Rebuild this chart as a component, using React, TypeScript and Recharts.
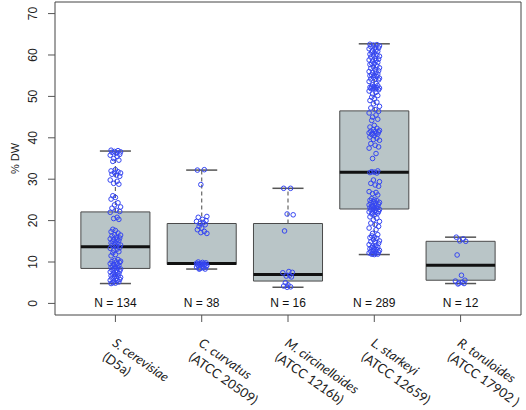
import React from 'react';
import { ComposedChart, XAxis, YAxis, Scatter, ReferenceArea, ReferenceLine } from 'recharts';

const categories = ['S. cerevisiae', 'C. curvatus', 'M. circinelloides', 'L. starkeyi', 'R. toruloides'];
const strains = ['(D5a)', '(ATCC 20509)', '(ATCC 1216b)', '(ATCC 12659)', '(ATCC 17902 )'];
const counts = [134, 38, 16, 289, 12];
const whiskerLow = [4.8, 8.3, 3.9, 11.8, 4.8];
const q1 = [8.45, 9.4, 5.4, 22.8, 5.6];
const medians = [13.7, 9.65, 7.0, 31.7, 9.2];
const q3 = [22.1, 19.3, 19.3, 46.5, 15.0];
const whiskerHigh = [36.8, 32.2, 27.8, 62.7, 16.0];
const yTicks = [0, 10, 20, 30, 40, 50, 60, 70];

const cerevisiaePts = [
  37, 36.9, 36.7, 36.6, 36.5, 36.3, 36, 35.8, 35.5, 35, 34.6, 34.3,
  32.3, 32, 31.8, 31.6, 31.5, 31.2, 31, 30.7,
  29.8, 29.5, 29, 28.8,
  26, 25.6, 25.2,
  24.3, 23.8, 23.3, 23, 22.5, 22.2, 22,
  20.8, 20.5, 20.3,
  17.9, 17.6, 17.3, 17, 16.6, 16.5, 16.3, 16,
  15.8, 15.6, 15.5, 15.4, 15.2, 15, 14.8, 14.6, 14.4, 14.2, 14.1, 14, 13.8,
  13.5, 13.3, 13.1, 12.8, 12.5, 12.2, 11.8, 11.5,
  10.6, 10.4, 10.2, 10.1, 10, 9.9,
  9.6, 9.5, 9.4, 9.2, 9, 8.8, 8.7, 8.6, 8.5, 8.3, 8.1, 8, 7.8, 7.6, 7.5, 7.4, 7.2, 7,
  6.9, 6.7, 6.6, 6.5, 6.3, 6.1, 6, 5.8, 5.6, 5.5, 5.4, 5.2, 5, 4.9, 4.8,
];
const curvatusPts = [
  32.2, 32.3, 28.7, 21, 20.8, 20.3, 20, 19.8, 19.5, 19.3, 19, 18.6, 18.2, 17.8, 17.4, 17.1, 16.9,
  10, 9.9, 9.8, 9.7, 9.6, 9.6, 9.5, 9.5, 9.4, 9.4, 9.3, 9.3, 9.2, 9.1, 9.0, 8.9, 8.8, 8.6, 8.4, 8.3, 8.3,
];
const circinelloidesPts = [27.8, 27.8, 21.6, 21.4, 17.5, 7.7, 7.5, 7.4, 6.8, 6.6, 6.4, 5.0, 4.5, 4.2, 4.0, 3.9];
const starkeyiPts = [
  62.6, 62.5, 62.4, 62.2, 62, 61.8, 61.7, 61.5, 61.2, 61, 60.9, 60.7, 60.5, 60.2, 60, 59.9, 59.7, 59.5,
  59.2, 59, 58.8, 58.7, 58.5, 58.2, 58, 57.9, 57.7, 57.4, 57.1, 56.9, 56.8, 56.5, 56.2, 56, 55.9, 55.7,
  55.4, 55.2, 55.1, 55, 54.8, 54.6, 54.4, 54.2, 54.1, 54, 53.6, 53.2, 52.8, 52.6, 52.4, 52.3, 52.2, 52.1,
  52, 52, 51.9, 51.8, 51.6, 51.3, 51, 50.6, 50.2, 49.8, 49.4, 49, 48.6, 48.2, 47.6, 47.2, 46.8, 46.4,
  46, 45.5, 45, 44.5, 44.2, 43, 42.6, 42.3, 42, 41.8, 41.6, 41.5, 41.4, 41.2, 41.1, 41, 40.9, 40.8,
  40.5, 40.2, 39.9, 39.6, 39.4, 38.6, 38.2, 37.8, 37.5, 36.2, 35, 32, 31.8, 31.7, 31.6, 31.5,
  29.8, 29.4, 29, 28.6, 28.3, 27, 26.8, 26.5, 26.2, 25.3, 25, 24.9, 24.8, 24.6, 24.4, 24.3, 24.2, 24,
  23.8, 23.7, 23.6, 23.5, 23.3, 23.2, 23.1, 23, 22.8, 22.7, 22.6, 22.4, 22.2, 22.1, 22, 21.9, 21.8,
  21.6, 21.4, 20.9, 20.6, 20.2, 19.8, 19.4, 19, 18.6, 18.2, 17.8, 16.9, 16.6, 16.3, 16, 15.9, 15.7,
  15.4, 15.1, 14.9, 14.8, 14.5, 14.2, 14, 13.8, 13.6, 13.5, 13.4, 13.2, 13, 12.9, 12.8, 12.6, 12.5,
  12.4, 12.2, 12.1, 12, 11.9, 11.9, 11.8,
];
const toruloidesPts = [16.0, 15.6, 15.1, 15.0, 11.7, 6.8, 5.6, 5.4, 5.1, 4.9, 4.8, 4.7];

const groupPoints = [cerevisiaePts, curvatusPts, circinelloidesPts, starkeyiPts, toruloidesPts];
const jitter = [-0.05, 0.03, -0.01, 0.06, -0.04, 0.01, 0.05, -0.06, 0.02, -0.02, 0.04, -0.03, 0.0];

const pointData = groupPoints.flatMap((vals, i) =>
  vals.map((v, j) => ({ x: i + 1 + jitter[j % jitter.length], y: v }))
);
const nLabelData = counts.map((n, i) => ({ x: i + 1, y: 0, label: `N = ${n}` }));

const BOX_HALF = 0.4;
const CAP_HALF = 0.18;

const XTick = (props: any) => {
  const { x, y, payload } = props;
  const i = Math.round(payload.value) - 1;
  if (i < 0 || i >= categories.length) return null;
  return (
    <g transform={`translate(${x - 4},${y + 21}) rotate(35)`}>
      <text fontFamily="Lato" fontSize={13} fill="#222">
        <tspan x={0} dy={0} fontStyle="italic">{categories[i]}</tspan>
        <tspan x={0} dy={17}>{strains[i]}</tspan>
      </text>
    </g>
  );
};

const YTick = (props: any) => {
  const { y, payload } = props;
  const cx = 33.5;
  return (
    <text
      x={cx}
      y={y}
      transform={`rotate(-90 ${cx} ${y})`}
      textAnchor="middle"
      dominantBaseline="central"
      fontFamily="Liberation Sans"
      fontSize={12}
      fill="#222"
    >
      {payload.value}
    </text>
  );
};

const YLabel = (props: any) => {
  const vb = props.viewBox || {};
  const cy = (vb.y ?? 2) + (vb.height ?? 313) / 2;
  const cx = 15;
  return (
    <text
      x={cx}
      y={cy}
      transform={`rotate(-90 ${cx} ${cy})`}
      textAnchor="middle"
      dominantBaseline="central"
      fontFamily="Liberation Sans"
      fontSize={11}
      fill="#222"
    >
      % DW
    </text>
  );
};

const PointShape = (props: any) => {
  const { cx, cy } = props;
  if (cx == null || cy == null) return null;
  return <circle cx={cx} cy={cy} r={2.3} fill="none" stroke="#3546f2" strokeWidth={1} />;
};

const NLabelShape = (props: any) => {
  const { cx, cy, payload } = props;
  if (cx == null || cy == null) return null;
  return (
    <text x={cx} y={cy} textAnchor="middle" dominantBaseline="central" fontFamily="Liberation Sans" fontSize={12} fill="#111">
      {payload.label}
    </text>
  );
};

export default function App() {
  return (
    <div style={{ position: 'absolute', left: 0, top: 0, width: 526, height: 410, background: '#fff' }}>
      <ComposedChart width={526} height={410} margin={{ top: 2, right: 5, left: 0, bottom: 0 }} style={{ overflow: 'visible' }}>
        <XAxis
          type="number"
          dataKey="x"
          domain={[0.3, 5.7]}
          ticks={[1, 2, 3, 4, 5]}
          allowDataOverflow
          axisLine={false}
          tickSize={7}
          tickLine={{ stroke: '#555' }}
          tick={<XTick />}
          height={95}
          interval={0}
        />
        <YAxis
          type="number"
          dataKey="y"
          domain={[-2.8, 72.8]}
          ticks={yTicks}
          allowDataOverflow
          axisLine={false}
          tickSize={7}
          tickLine={{ stroke: '#555' }}
          tick={<YTick />}
          width={55}
          interval={0}
          label={<YLabel />}
        />
        {categories.map((c, i) => (
          <ReferenceLine
            key={`wl-${c}`}
            segment={[{ x: i + 1, y: whiskerLow[i] }, { x: i + 1, y: q1[i] }]}
            stroke="#666"
            strokeWidth={1.2}
            strokeDasharray="4 3"
          />
        ))}
        {categories.map((c, i) => (
          <ReferenceLine
            key={`wh-${c}`}
            segment={[{ x: i + 1, y: q3[i] }, { x: i + 1, y: whiskerHigh[i] }]}
            stroke="#666"
            strokeWidth={1.2}
            strokeDasharray="4 3"
          />
        ))}
        {categories.map((c, i) => (
          <ReferenceLine
            key={`cl-${c}`}
            segment={[{ x: i + 1 - CAP_HALF, y: whiskerLow[i] }, { x: i + 1 + CAP_HALF, y: whiskerLow[i] }]}
            stroke="#555"
            strokeWidth={1.5}
          />
        ))}
        {categories.map((c, i) => (
          <ReferenceLine
            key={`ch-${c}`}
            segment={[{ x: i + 1 - CAP_HALF, y: whiskerHigh[i] }, { x: i + 1 + CAP_HALF, y: whiskerHigh[i] }]}
            stroke="#555"
            strokeWidth={1.5}
          />
        ))}
        {categories.map((c, i) => (
          <ReferenceArea
            key={`box-${c}`}
            x1={i + 1 - BOX_HALF}
            x2={i + 1 + BOX_HALF}
            y1={q1[i]}
            y2={q3[i]}
            fill="#b9c5c7"
            fillOpacity={1}
            stroke="#4a4a4a"
            strokeWidth={1}
          />
        ))}
        {categories.map((c, i) => (
          <ReferenceLine
            key={`med-${c}`}
            segment={[{ x: i + 1 - BOX_HALF, y: medians[i] }, { x: i + 1 + BOX_HALF, y: medians[i] }]}
            stroke="#111"
            strokeWidth={3}
          />
        ))}
        <ReferenceArea
          x1={0.3}
          x2={5.7}
          y1={-2.8}
          y2={72.8}
          fill="none"
          fillOpacity={0}
          stroke="#444"
          strokeWidth={1}
        />
        <Scatter data={pointData} shape={<PointShape />} isAnimationActive={false} />
        <Scatter data={nLabelData} shape={<NLabelShape />} isAnimationActive={false} />
      </ComposedChart>
    </div>
  );
}
